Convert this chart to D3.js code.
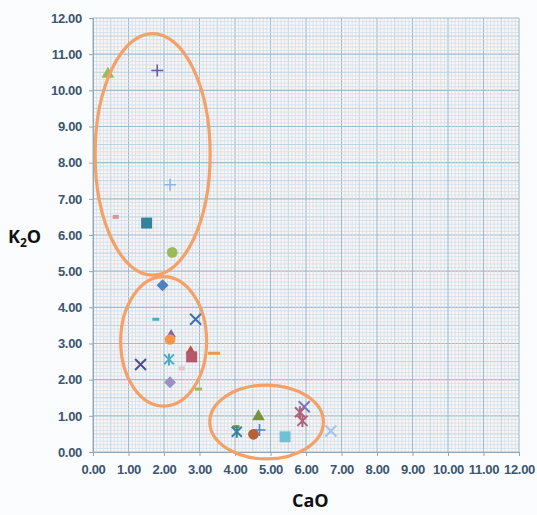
<!DOCTYPE html>
<html><head><meta charset="utf-8">
<script src="https://cdn.jsdelivr.net/npm/d3@7"></script>
<style>
html,body{margin:0;padding:0;background:#fbfcfe;}
svg{display:block;}
</style></head>
<body>
<svg id="chart" width="537" height="515"></svg>
<script>
// ---- data ----
const cao = [0.42, 1.81, 2.17, 0.64, 1.51, 2.23,
             1.96, 1.77, 2.89, 2.20, 2.17, 2.75, 2.78, 3.41, 1.34, 2.14, 2.50, 2.17, 2.97,
             4.03, 4.05, 4.66, 4.69, 4.52, 5.41, 5.95, 5.83, 5.90, 6.70];
const k2o = [10.45, 10.55, 7.39, 6.50, 6.33, 5.52,
             4.61, 3.67, 3.67, 3.25, 3.11, 2.80, 2.63, 2.73, 2.42, 2.56, 2.31, 1.93, 1.74,
             0.70, 0.56, 0.98, 0.61, 0.49, 0.42, 1.25, 1.10, 0.86, 0.58];
const markerTypes = ["triangle","plus","plus","smallsq","square","circle",
             "diamond","dash","x","smalltri","circle","smalltri","square","longdash","x","star","smallsq","diamond","dash",
             "dash","star","triangle","plus","circle","square","x","star","star","x"];
const markerColors = ["#9bbb59","#6a56a8","#8fb4e3","#d99694","#31849b","#9bbb59",
             "#4f81bd","#4bacc6","#3e6fb0","#8064a2","#f79646","#c0504d","#b3596a","#f79646","#4b4f8f","#4bacc6","#e6c3c8","#9d8fc0","#9bbb59",
             "#77933c","#31859c","#77933c","#4f81bd","#b86035","#6fc1d3","#7a76c2","#b0607a","#b0607a","#a6c3e6"];
// ellipses: [cx, cy, rx, ry] in data units
const ellipseCx = [1.68, 1.99, 4.89];
const ellipseCy = [8.23, 3.06, 0.83];
const ellipseRx = [1.62, 1.21, 1.60];
const ellipseRy = [3.34, 1.79, 1.02];
const xTicks = d3.range(0, 12.01, 1);
const yTicks = d3.range(0, 12.01, 1);

// ---- layout ----
const svg = d3.select("#chart");
const L = 93, R = 519, T = 18, B = 452;
const x = d3.scaleLinear().domain([0, 12]).range([L, R]);
const y = d3.scaleLinear().domain([0, 12]).range([B, T]);

// plot background (graph paper)
svg.append("rect").attr("x", L).attr("y", T).attr("width", R - L).attr("height", B - T)
  .attr("fill", "#fdf5f3");

const grid = svg.append("g");
const minor = d3.range(0, 120.5, 1).map(i => i / 10);
minor.forEach(v => {
  const i = Math.round(v * 10);
  let col, w;
  if (i % 10 === 0) { col = "#9dbccf"; w = 1.1; }
  else if (i % 5 === 0) { col = "#b5cfdf"; w = 0.9; }
  else { col = "#cde0ec"; w = 0.8; }
  grid.append("line").attr("x1", x(v)).attr("x2", x(v)).attr("y1", T).attr("y2", B)
    .attr("stroke", col).attr("stroke-width", w);
  grid.append("line").attr("y1", y(v)).attr("y2", y(v)).attr("x1", L).attr("x2", R)
    .attr("stroke", col).attr("stroke-width", w);
});

// axes
const fmt = d3.format(".2f");
const xAxis = svg.append("g").attr("transform", `translate(0,${B})`)
  .call(d3.axisBottom(x).tickValues(xTicks).tickFormat(fmt).tickSize(4).tickPadding(9));
const yAxis = svg.append("g").attr("transform", `translate(${L},0)`)
  .call(d3.axisLeft(y).tickValues(yTicks).tickFormat(fmt).tickSize(4).tickPadding(7));
[xAxis, yAxis].forEach(a => {
  a.select(".domain").attr("stroke", "#8fa6b6");
  a.selectAll(".tick line").attr("stroke", "#8fa6b6");
  a.selectAll("text").attr("fill", "#3a5570").attr("font-family", "'Liberation Sans Narrow','Liberation Sans',Arial,sans-serif")
    .attr("font-size", 13).attr("font-weight", "bold").attr("letter-spacing", "-0.3");
});

// markers
function markerPath(type) {
  switch (type) {
    case "triangle": return d3.symbol().type(d3.symbolTriangle).size(70)();
    case "smalltri": return d3.symbol().type(d3.symbolTriangle).size(40)();
    case "circle": return d3.symbol().type(d3.symbolCircle).size(90)();
    case "square": return "M-5.5,-5.5H5.5V5.5H-5.5Z";
    case "smallsq": return "M-3,-2H3V2H-3Z";
    case "diamond": return "M0,-6L6,0L0,6L-6,0Z";
    case "dash": return "M-3.5,-1.5H3.5V1.5H-3.5Z";
    case "longdash": return "M-6,-1.5H6V1.5H-6Z";
    default: return null;
  }
}
const g = svg.append("g");
cao.forEach((cx, i) => {
  const t = markerTypes[i], c = markerColors[i];
  const px = x(cx), py = y(k2o[i]);
  const p = markerPath(t);
  if (p) {
    g.append("path").attr("d", p).attr("transform", `translate(${px},${py})`).attr("fill", c);
  } else {
    let d = "";
    if (t === "plus") d = "M-6,0H6M0,-6V6";
    if (t === "x") d = "M-5.5,-5.5L5.5,5.5M-5.5,5.5L5.5,-5.5";
    if (t === "star") d = "M-5,-5L5,5M-5,5L5,-5M0,-6V6";
    g.append("path").attr("d", d).attr("transform", `translate(${px},${py})`)
      .attr("stroke", c).attr("stroke-width", t === "plus" ? 1.6 : 2).attr("fill", "none");
  }
});

// ellipses
ellipseCx.forEach((cx, i) => {
  svg.append("ellipse")
    .attr("cx", x(cx)).attr("cy", y(ellipseCy[i]))
    .attr("rx", x(ellipseRx[i]) - x(0)).attr("ry", y(0) - y(ellipseRy[i]))
    .attr("fill", "none").attr("stroke", "#f5a066").attr("stroke-width", 3.2);
});

// axis titles
svg.append("text").attr("x", 292).attr("y", 507)
  .attr("font-family", "'Open Sans','Liberation Sans',Arial,sans-serif").attr("font-weight", "bold")
  .attr("font-size", 18).attr("fill", "#111").text("CaO");
const kt = svg.append("text").attr("x", 8).attr("y", 243)
  .attr("font-family", "'Open Sans','Liberation Sans',Arial,sans-serif").attr("font-weight", "bold")
  .attr("font-size", 18).attr("fill", "#111");
kt.append("tspan").text("K");
kt.append("tspan").attr("font-size", 12).attr("dy", 4).text("2");
kt.append("tspan").attr("dy", -4).text("O");
</script>
</body></html>
